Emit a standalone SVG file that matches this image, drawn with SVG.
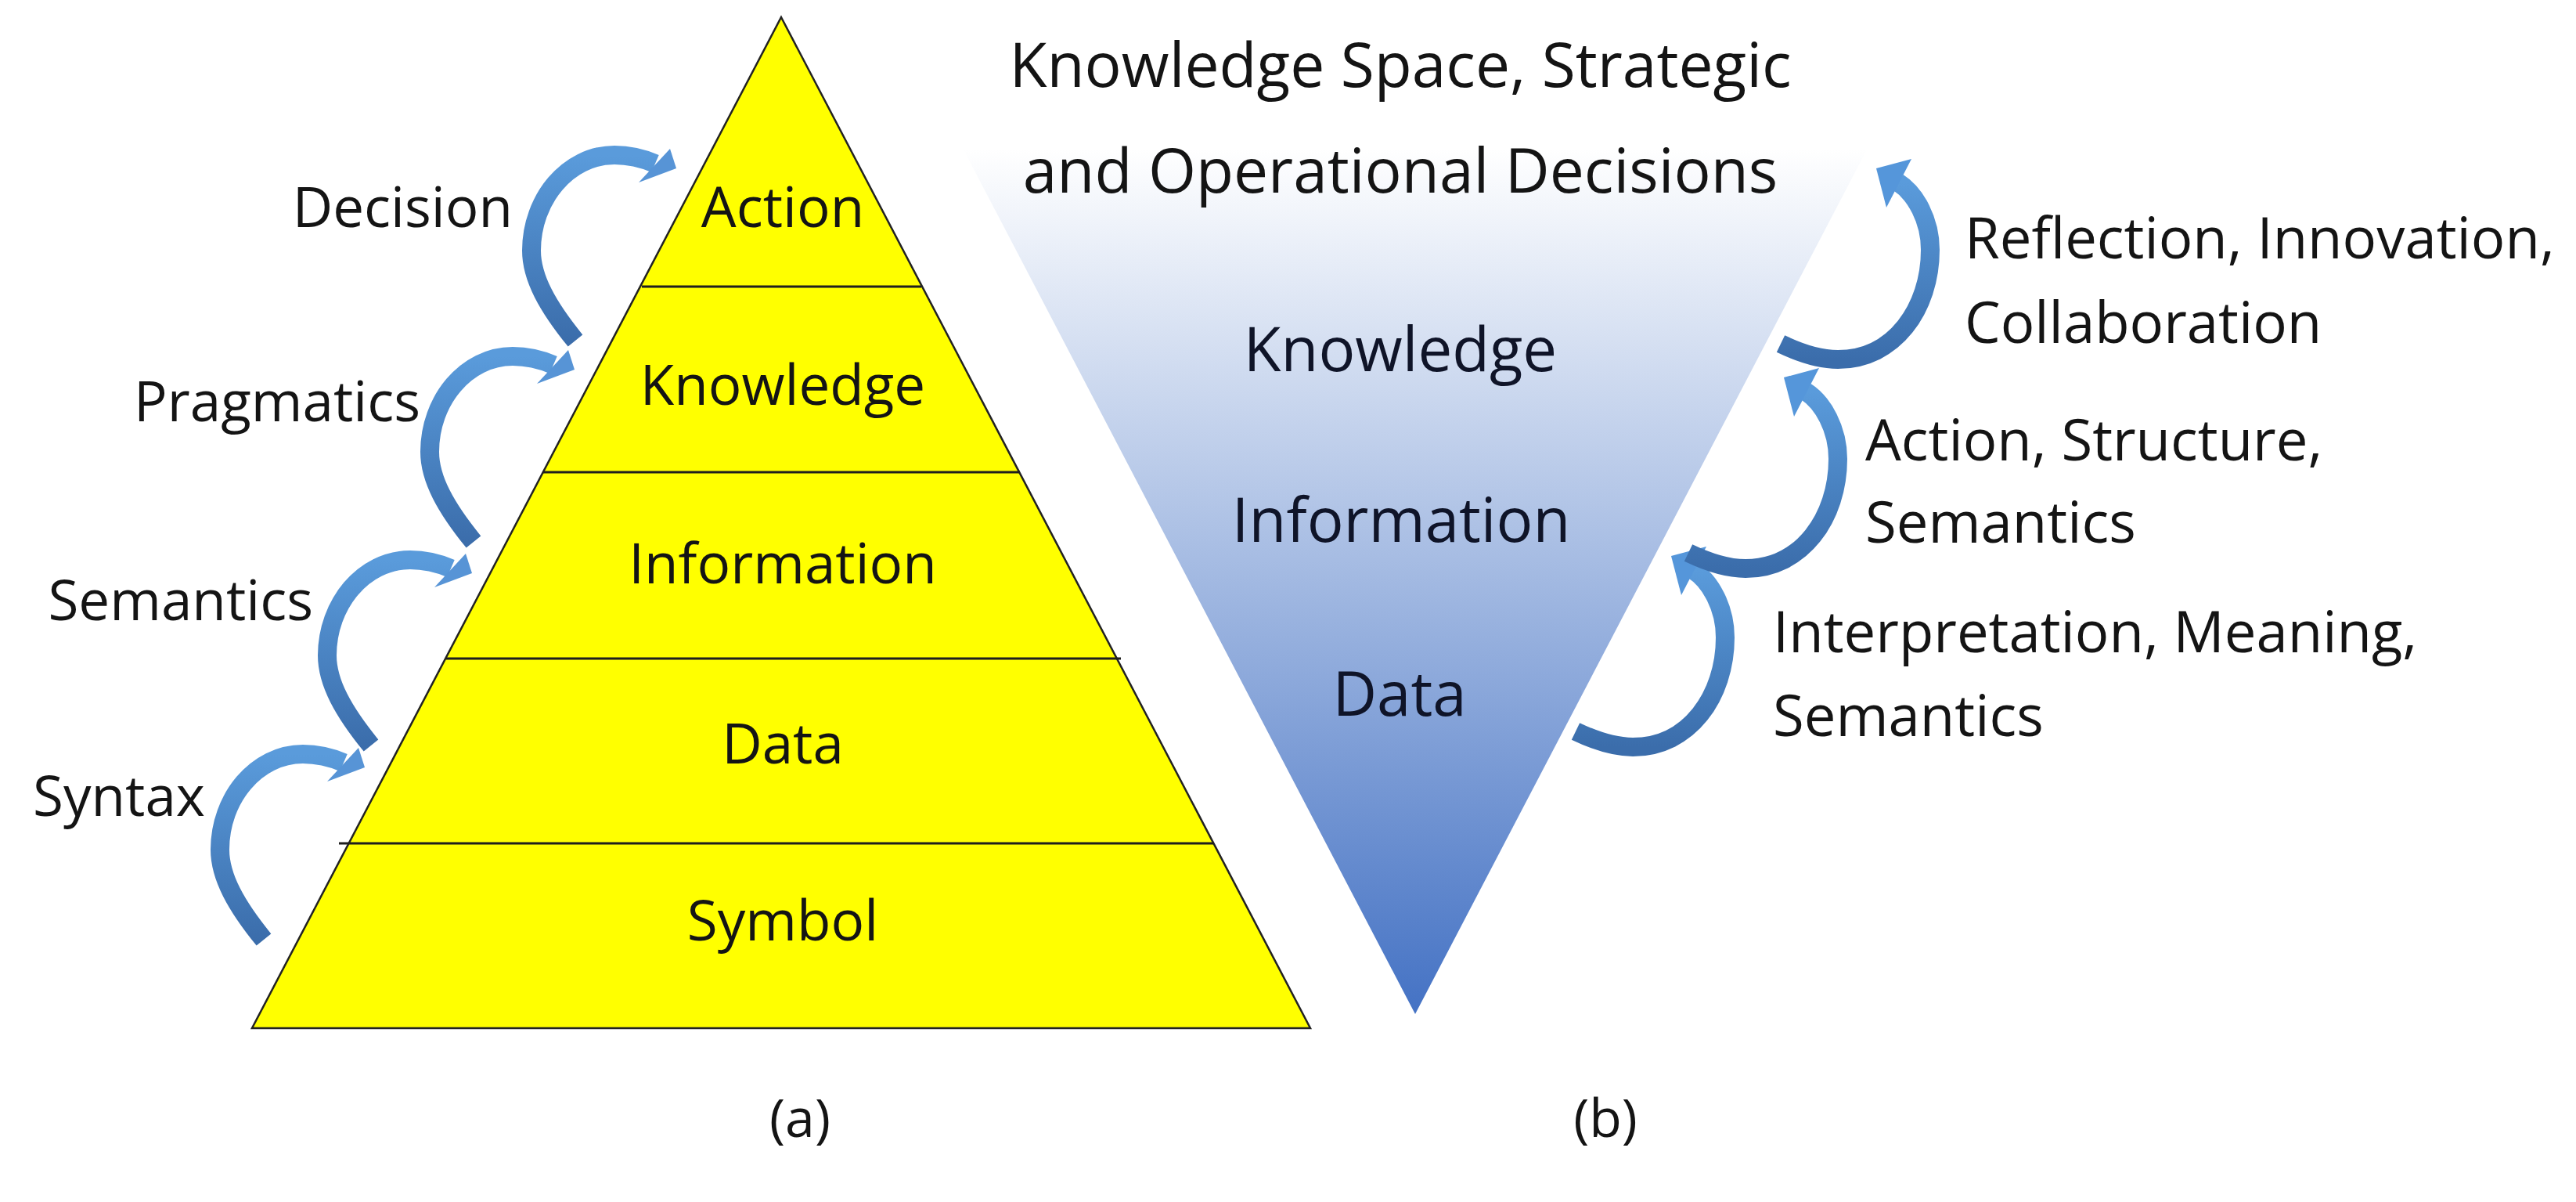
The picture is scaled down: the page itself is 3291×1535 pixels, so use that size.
<svg xmlns="http://www.w3.org/2000/svg" xmlns:xlink="http://www.w3.org/1999/xlink" width="3291" height="1535" viewBox="0 0 3291 1535">
<style>
text{font-family:"Open Sans","Liberation Sans",sans-serif;fill:#141414}
.pt{font-size:71px;text-anchor:middle}
.ll{font-size:71px;text-anchor:end}
.rl{font-size:72.5px;text-anchor:start}
.tt{font-size:78.5px;text-anchor:middle}
.it{font-size:78px;text-anchor:middle;fill:#0f1428}
.cap{font-size:68px;text-anchor:middle}
.band{stroke:#1e1e1e;stroke-width:3}
.arw{fill:none;stroke-width:24;stroke-linecap:butt}
</style>
<defs>
<linearGradient id="gInv" gradientUnits="userSpaceOnUse" x1="0" y1="190" x2="0" y2="1295">
<stop offset="0" stop-color="#ffffff"/>
<stop offset="1" stop-color="#4472c4"/>
</linearGradient>
<linearGradient id="gArr" x1="0" y1="0" x2="0" y2="1">
<stop offset="0" stop-color="#5a9bdb"/>
<stop offset="1" stop-color="#3b6dab"/>
</linearGradient>
<g id="leftArrow">
<path class="arw" stroke="url(#gArr)" d="M0,0 C-35,-43 -56,-80 -56,-115 C-56,-180 -10,-237 50,-237 C70,-237 88,-232 102,-226"/>
<polygon points="121,-245 129,-220 81,-202" fill="#5794d6"/>
</g>
<g id="rightArrow">
<path class="arw" stroke="url(#gArr)" d="M0,0 C25,12 50,20 73,20 C145,20 191,-45 191,-120 C191,-158 172,-192 150,-206"/>
<polygon points="122,-224 167,-236 135,-174" fill="#5596da"/>
</g>
</defs>
<rect x="0" y="0" width="3291" height="1535" fill="#ffffff"/>

<g id="pyramid">
<polygon points="998,22 1674,1313 322,1313" fill="#ffff00" stroke="#222" stroke-width="2.5"/>
<line class="band" x1="820" y1="366" x2="1177" y2="366"/>
<line class="band" x1="693" y1="603" x2="1303" y2="603"/>
<line class="band" x1="570" y1="841" x2="1432" y2="841"/>
<line class="band" x1="433" y1="1077" x2="1550" y2="1077"/>
</g>
<g id="node-action"><text class="pt" x="1000" y="290">Action</text></g>
<g id="node-knowledge"><text class="pt" x="1000" y="517">Knowledge</text></g>
<g id="node-information"><text class="pt" x="1000" y="745">Information</text></g>
<g id="node-data"><text class="pt" x="1000" y="975">Data</text></g>
<g id="node-symbol"><text class="pt" x="1000" y="1201">Symbol</text></g>

<g id="inverted-triangle">
<polygon points="1199,130 2417,130 1808,1295" fill="url(#gInv)"/>
</g>
<g id="node-title"><text class="tt" x="1789" y="111">Knowledge Space, Strategic</text><text class="tt" x="1789" y="246">and Operational Decisions</text></g>
<g id="node-r-knowledge"><text class="it" x="1789" y="474">Knowledge</text></g>
<g id="node-r-information"><text class="it" x="1790" y="692">Information</text></g>
<g id="node-r-data"><text class="it" x="1788" y="914">Data</text></g>

<g id="connectors">
<use xlink:href="#leftArrow" href="#leftArrow" transform="translate(337,1200)"/>
<use xlink:href="#leftArrow" href="#leftArrow" transform="translate(474,952)"/>
<use xlink:href="#leftArrow" href="#leftArrow" transform="translate(605,692)"/>
<use xlink:href="#leftArrow" href="#leftArrow" transform="translate(735,435)"/>
<use xlink:href="#rightArrow" href="#rightArrow" transform="translate(2013,934)"/>
<use xlink:href="#rightArrow" href="#rightArrow" transform="translate(2157,706)"/>
<use xlink:href="#rightArrow" href="#rightArrow" transform="translate(2275,439)"/>
</g>

<g id="labels-left">
<text class="ll" x="655" y="290">Decision</text>
<text class="ll" x="537" y="538">Pragmatics</text>
<text class="ll" x="400" y="792">Semantics</text>
<text class="ll" x="262" y="1042">Syntax</text>
</g>
<g id="labels-right">
<text class="rl" x="2510" y="330">Reflection, Innovation,</text>
<text class="rl" x="2510" y="438">Collaboration</text>
<text class="rl" x="2383" y="588">Action, Structure,</text>
<text class="rl" x="2383" y="693">Semantics</text>
<text class="rl" x="2265" y="833">Interpretation, Meaning,</text>
<text class="rl" x="2265" y="940">Semantics</text>
</g>
<g id="captions">
<text class="cap" x="1022" y="1452">(a)</text>
<text class="cap" x="2051" y="1452">(b)</text>
</g>
</svg>
